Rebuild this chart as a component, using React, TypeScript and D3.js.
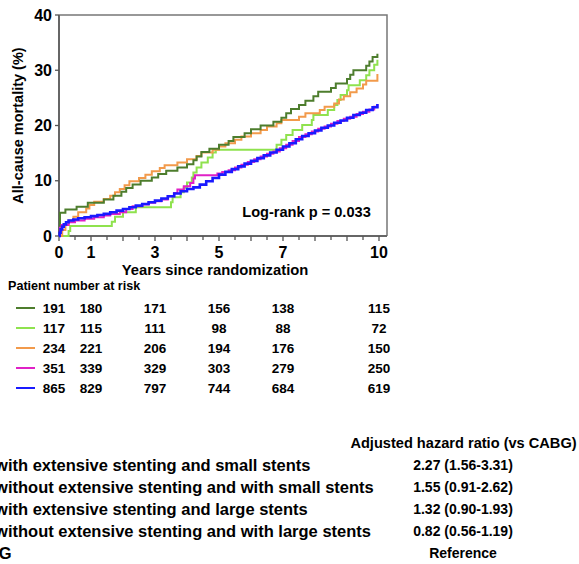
import React from 'react';
import * as d3 from 'd3';

// step points [years, mortality %]
const darkGreen: [number, number][] = [
  [0, 0], [0.03, 4.2], [0.2, 4.8], [0.55, 5.3], [0.9, 6.0], [1.4, 6.6], [1.7, 7.3], [1.95, 8.0],
  [2.1, 8.7], [2.3, 9.3], [2.55, 10.0], [2.9, 10.6], [3.1, 11.2], [3.35, 11.8], [3.7, 12.4],
  [4.0, 13.0], [4.2, 13.7], [4.3, 14.4], [4.45, 15.2], [4.7, 15.8], [5.0, 16.5], [5.3, 17.2],
  [5.45, 17.9], [5.8, 18.6], [6.0, 19.3], [6.3, 20.0], [6.7, 20.7], [6.95, 21.4], [7.1, 22.2],
  [7.25, 23.0], [7.5, 23.7], [7.7, 24.5], [7.95, 25.3], [8.1, 26.1], [8.5, 26.8], [8.65, 27.6],
  [9.0, 28.4], [9.1, 29.2], [9.2, 30.0], [9.6, 30.8], [9.7, 31.6], [9.8, 32.4], [9.95, 33.0],
];
const lightGreen: [number, number][] = [
  [0, 0], [0.3, 0.9], [0.35, 1.8], [1.65, 2.6], [1.75, 3.5], [2.0, 4.3], [2.4, 5.2], [3.5, 6.1],
  [3.55, 7.0], [3.8, 7.9], [3.9, 8.8], [4.0, 9.7], [4.15, 10.6], [4.2, 11.5], [4.3, 12.4],
  [4.45, 13.3], [4.65, 14.2], [4.8, 15.1], [4.9, 15.6], [6.8, 16.5], [6.95, 17.4], [7.1, 18.3],
  [7.3, 19.2], [7.6, 20.1], [7.9, 21.0], [7.95, 21.9], [8.4, 22.8], [8.6, 23.7], [8.7, 24.6],
  [8.8, 25.5], [9.0, 26.4], [9.05, 27.3], [9.4, 28.2], [9.6, 29.1], [9.7, 30.0], [9.85, 31.0],
  [9.95, 31.9],
];
const orange: [number, number][] = [
  [0, 0], [0.1, 1.1], [0.2, 2.0], [0.3, 2.8], [0.45, 3.5], [0.6, 4.3], [0.85, 5.0], [0.95, 5.6],
  [1.1, 6.2], [1.4, 6.7], [1.6, 7.3], [1.75, 7.9], [1.9, 8.5], [2.05, 9.2], [2.2, 9.9], [2.5, 10.5],
  [2.7, 11.1], [2.9, 11.7], [3.15, 12.3], [3.3, 12.8], [3.7, 13.3], [4.0, 13.9], [4.3, 14.5],
  [4.45, 15.1], [4.8, 15.6], [5.0, 16.2], [5.2, 16.8], [5.5, 17.4], [5.7, 18.0], [6.0, 18.6],
  [6.3, 19.2], [6.5, 19.8], [6.8, 20.4], [6.95, 21.0], [7.5, 21.6], [7.7, 22.2], [8.15, 22.8],
  [8.3, 23.4], [8.6, 24.0], [8.75, 24.7], [8.9, 25.3], [9.1, 26.0], [9.3, 26.7], [9.5, 27.4],
  [9.6, 28.1], [9.95, 29.3],
];
const magenta: [number, number][] = [
  [0, 0], [0.03, 1.5], [0.08, 2.0], [0.3, 2.5], [0.5, 2.8], [0.8, 3.1], [1.1, 3.4], [1.4, 3.7],
  [1.6, 4.0], [1.9, 4.3], [2.1, 4.9], [2.3, 5.4], [2.6, 5.7], [2.8, 6.0], [3.0, 6.3], [3.2, 6.6],
  [3.4, 7.2], [3.6, 7.8], [3.7, 8.4], [3.9, 9.0], [4.1, 9.6], [4.2, 10.4], [4.25, 11.0],
  [4.95, 11.3], [5.1, 11.6], [5.3, 11.9], [5.5, 12.4], [5.7, 12.9], [5.9, 13.4], [6.1, 13.9],
  [6.3, 14.4], [6.5, 14.9], [6.7, 15.3], [6.9, 15.9], [7.1, 16.5], [7.3, 17.2], [7.5, 17.9],
  [7.7, 18.4], [7.9, 18.9], [8.1, 19.4], [8.3, 19.8], [8.5, 20.3], [8.7, 20.8], [8.9, 21.2],
  [9.1, 21.6], [9.3, 22.1], [9.5, 22.5], [9.7, 22.9], [9.85, 23.4], [9.95, 23.8],
];
const blue: [number, number][] = [
  [0, 0], [0.02, 0.6], [0.05, 1.2], [0.1, 1.7], [0.15, 2.1], [0.22, 2.5], [0.3, 2.8], [0.45, 3.0],
  [0.6, 3.2], [0.8, 3.4], [1.0, 3.6], [1.2, 3.8], [1.4, 4.0], [1.6, 4.3], [1.8, 4.6], [2.0, 4.9],
  [2.2, 5.2], [2.4, 5.5], [2.6, 5.8], [2.8, 6.1], [3.0, 6.4], [3.2, 6.8], [3.4, 7.2], [3.6, 7.7],
  [3.8, 8.1], [4.0, 8.5], [4.2, 8.8], [4.4, 9.3], [4.6, 9.9], [4.8, 10.5], [5.0, 11.1], [5.2, 11.6],
  [5.4, 12.1], [5.6, 12.6], [5.8, 13.1], [6.0, 13.6], [6.2, 14.1], [6.4, 14.6], [6.6, 15.1],
  [6.8, 15.6], [7.0, 16.2], [7.2, 16.8], [7.4, 17.5], [7.6, 18.1], [7.8, 18.6], [8.0, 19.1],
  [8.2, 19.6], [8.4, 20.0], [8.6, 20.5], [8.8, 20.9], [9.0, 21.4], [9.2, 21.9], [9.4, 22.3],
  [9.6, 22.8], [9.8, 23.3], [9.95, 23.9],
];

const groupNames = [
  'PCI with extensive stenting and small stents',
  'PCI without extensive stenting and with small stents',
  'PCI with extensive stenting and large stents',
  'PCI without extensive stenting and with large stents',
  'CABG',
];
const hazardRatios = ['2.27 (1.56-3.31)', '1.55 (0.91-2.62)', '1.32 (0.90-1.93)', '0.82 (0.56-1.19)', 'Reference'];
const colors = ['#4d7d2d', '#8fe24e', '#f29a4b', '#e021c6', '#1a1aff'];
const curves = [darkGreen, lightGreen, orange, magenta, blue];

const riskYears = [0, 1, 3, 5, 7, 10];
const atRisk = [
  [191, 180, 171, 156, 138, 115],
  [117, 115, 111, 98, 88, 72],
  [234, 221, 206, 194, 176, 150],
  [351, 339, 329, 303, 279, 250],
  [865, 829, 797, 744, 684, 619],
];
const xLabels = [0, 1, 3, 5, 7, 10];
const yTicks = [0, 10, 20, 30, 40];

const font = '"Liberation Sans", Arial, sans-serif';

export default function App() {
  const x = d3.scaleLinear().domain([0, 10]).range([59, 379]);
  const y = d3.scaleLinear().domain([0, 40]).range([236, 15]);
  const line = d3.line<[number, number]>()
    .x(d => x(d[0]))
    .y(d => y(d[1]))
    .curve(d3.curveStepAfter);
  const minor = d3.range(0, 10.01, 0.5);
  const drawOrder = [1, 2, 0, 3, 4];

  return (
    <svg width={579} height={564} style={{ position: 'absolute', left: 0, top: 0 }}
      fontFamily={font} fontWeight="bold">
      {/* frame */}
      <path d={`M${x(0)},${y(40)}H387V${y(0)}`} fill="none" stroke="#777" strokeWidth={1.5} />
      <line x1={x(0)} x2={x(0)} y1={y(40)} y2={y(0)} stroke="#666" strokeWidth={2} />
      <line x1={x(0)} x2={387} y1={y(0)} y2={y(0)} stroke="#666" strokeWidth={2} />
      {minor.map(t => (
        <line key={t} x1={x(t)} x2={x(t)} y1={y(0)} y2={y(0) + (Number.isInteger(t) ? 5 : 4)}
          stroke="#555" strokeWidth={1.3} />
      ))}
      {yTicks.map(v => (
        <g key={v}>
          <line x1={x(0) - 4} x2={x(0)} y1={y(v)} y2={y(v)} stroke="#555" strokeWidth={1.3} />
          <text x={52} y={y(v) + 5.5} textAnchor="end" fontSize={16}>{v}</text>
        </g>
      ))}
      {xLabels.map(t => (
        <text key={t} x={x(t)} y={258} textAnchor="middle" fontSize={16}>{t}</text>
      ))}
      <text x={215} y={275} textAnchor="middle" fontSize={14.8}>Years since randomization</text>
      <text transform={`translate(23,${y(20)}) rotate(-90)`} textAnchor="middle" fontSize={14.5}>
        All-cause mortality (%)
      </text>

      {drawOrder.map(i => (
        <path key={i} d={line(curves[i]) || ''} fill="none" stroke={colors[i]}
          strokeWidth={i === 4 ? 2.6 : 2} />
      ))}

      <text x={306.5} y={217} textAnchor="middle" fontSize={14.6}>Log-rank p = 0.033</text>

      {/* numbers at risk */}
      <text x={8} y={290} fontSize={12.6}>Patient number at risk</text>
      {atRisk.map((row, r) => (
        <g key={r}>
          <line x1={16} x2={35} y1={308 + r * 20} y2={308 + r * 20} stroke={colors[r]} strokeWidth={2} />
          {row.map((n, c) => (
            <text key={c} x={x(riskYears[c]) + (c === 0 ? -5 : 0)} y={313 + r * 20}
              textAnchor="middle" fontSize={13.5}>{n}</text>
          ))}
        </g>
      ))}

      {/* hazard ratios */}
      <text x={463.5} y={448} textAnchor="middle" fontSize={14.6}>Adjusted hazard ratio (vs CABG)</text>
      {groupNames.map((g, i) => (
        <g key={g}>
          <text x={-37} y={471 + i * 22} fontSize={16.5}>{g}</text>
          <text x={463} y={470 + i * 22} textAnchor="middle" fontSize={14}>{hazardRatios[i]}</text>
        </g>
      ))}
    </svg>
  );
}
